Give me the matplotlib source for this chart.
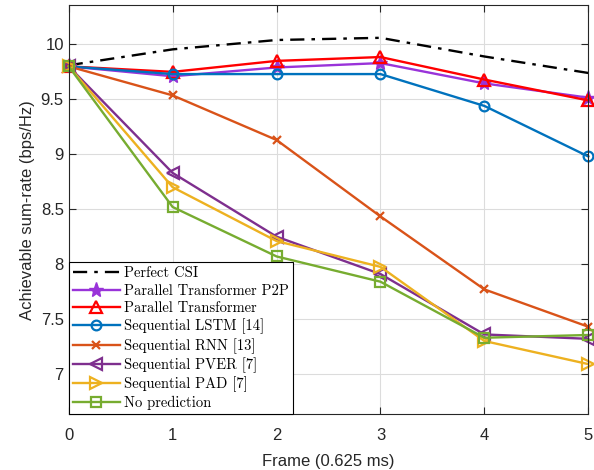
import matplotlib.pyplot as plt

# data
frames = [0, 1, 2, 3, 4, 5]
perfect_csi = [9.81, 9.955, 10.04, 10.06, 9.89, 9.74]
par_p2p = [9.80, 9.71, 9.79, 9.83, 9.645, 9.515]
par_trans = [9.80, 9.75, 9.85, 9.885, 9.68, 9.49]
seq_lstm = [9.80, 9.73, 9.73, 9.73, 9.44, 8.98]
seq_rnn = [9.80, 9.536, 9.13, 8.434, 7.77, 7.43]
seq_pver = [9.80, 8.83, 8.25, 7.91, 7.36, 7.32]
seq_pad = [9.80, 8.70, 8.21, 7.975, 7.30, 7.09]
no_pred = [9.80, 8.52, 8.07, 7.84, 7.33, 7.355]

yticks = [7, 7.5, 8, 8.5, 9, 9.5, 10]
ytick_labels = ['7', '7.5', '8', '8.5', '9', '9.5', '10']

plt.rcParams['font.family'] = ['Liberation Sans', 'DejaVu Sans']

fig = plt.figure(figsize=(5.94, 4.70), dpi=100)
ax = fig.add_axes([0.1157, 0.1185, 0.8747, 0.870])

LW = 1.7
ax.plot(frames, perfect_csi, color='black', lw=LW, dashes=(6, 3, 1.5, 3),
        label='Perfect CSI')
ax.plot(frames, par_p2p, color='#9933D9', lw=LW, marker='*', ms=11,
        markerfacecolor='#9933D9', label='Parallel Transformer P2P', clip_on=False)
ax.plot(frames, par_trans, color='#FF0000', lw=LW, marker='^', ms=9,
        markerfacecolor='none', mew=1.6, label='Parallel Transformer', clip_on=False)
ax.plot(frames, seq_lstm, color='#0072BD', lw=LW, marker='o', ms=7,
        markerfacecolor='none', mew=1.6, label='Sequential LSTM [14]', clip_on=False)
ax.plot(frames, seq_rnn, color='#D95319', lw=LW, marker='x', ms=6,
        mew=1.6, label='Sequential RNN [13]', clip_on=False)
ax.plot(frames, seq_pver, color='#7E2F8E', lw=LW, marker='<', ms=9,
        markerfacecolor='none', mew=1.6, label='Sequential PVER [7]', clip_on=False)
ax.plot(frames, seq_pad, color='#EDB120', lw=LW, marker='>', ms=9,
        markerfacecolor='none', mew=1.6, label='Sequential PAD [7]', clip_on=False)
ax.plot(frames, no_pred, color='#77AC30', lw=LW, marker='s', ms=6.5,
        markerfacecolor='none', mew=1.6, label='No prediction', clip_on=False)

ax.set_xlim(0, 5)
ax.set_ylim(6.633, 10.355)
ax.set_xticks(frames)
ax.set_yticks(yticks)
ax.set_yticklabels(ytick_labels)
ax.tick_params(direction='in', top=True, right=True, labelsize=12, length=5,
               color='#262626', labelcolor='#262626')
ax.tick_params(axis='x', pad=10)
ax.grid(True, color='#DCDCDC', lw=0.8)
ax.set_axisbelow(True)
for sp in ax.spines.values():
    sp.set_color('#262626')
    sp.set_linewidth(0.8)

ax.set_xlabel('Frame (0.625 ms)', fontsize=12, color='#262626', labelpad=8)
ax.set_ylabel('Achievable sum-rate (bps/Hz)', fontsize=12, color='#262626')

leg = ax.legend(loc='lower left', prop={'family': 'cmr10', 'size': 10.5},
                fancybox=False, framealpha=1, edgecolor='black',
                borderaxespad=0, labelspacing=0.25, handlelength=3.2,
                handletextpad=0.3, borderpad=0.3)
leg.get_frame().set_linewidth(0.8)

plt.savefig('out.png', dpi=100)
